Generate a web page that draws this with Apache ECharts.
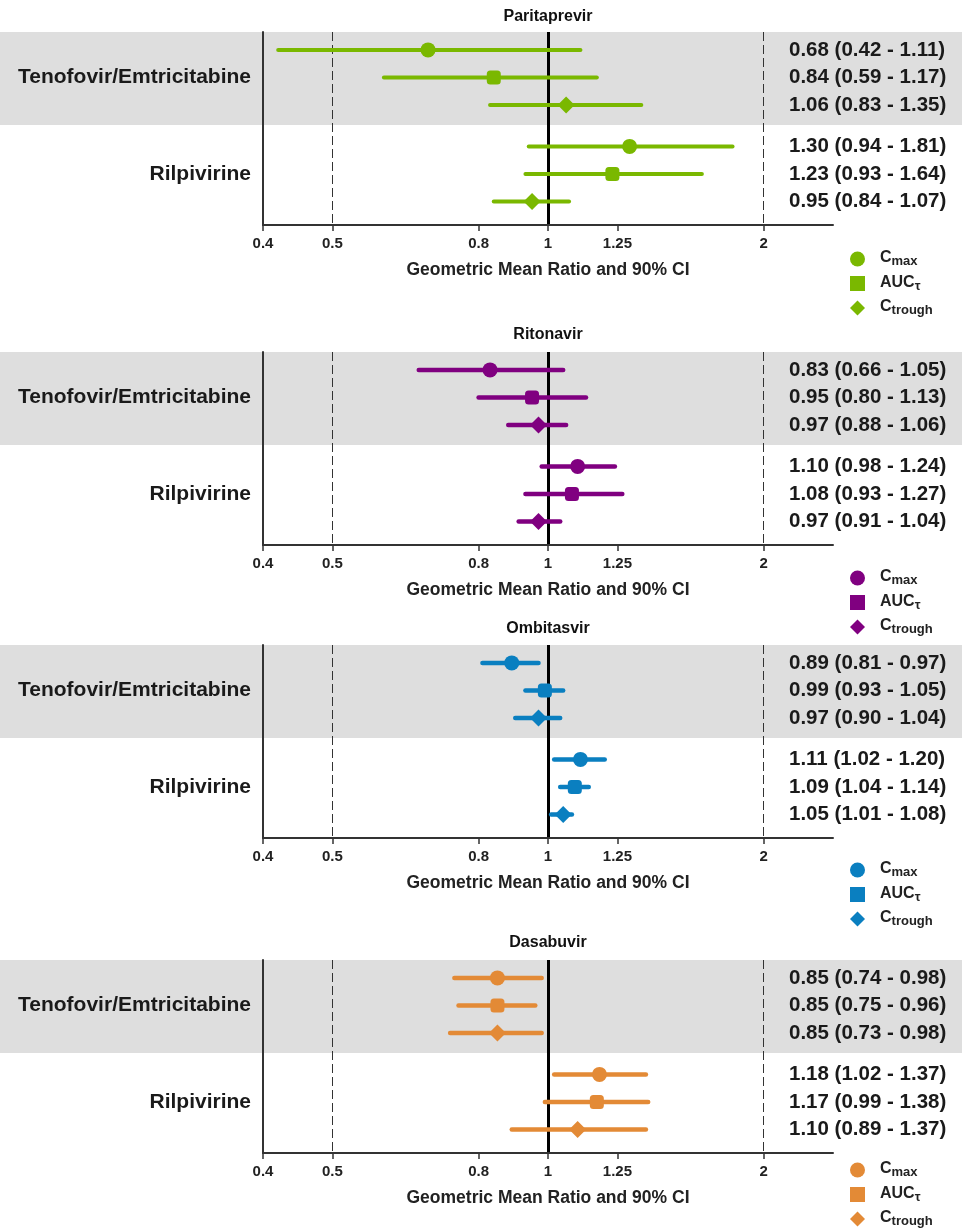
<!DOCTYPE html>
<html><head><meta charset="utf-8">
<script src="https://cdn.jsdelivr.net/npm/echarts@6/dist/echarts.min.js"></script>
<style>html,body{margin:0;padding:0;background:#fff}#c{width:962px;height:1232px}</style>
</head><body><div id="c"></div>
<script>
// ---------------- data ----------------
const drugs = ['Paritaprevir', 'Ritonavir', 'Ombitasvir', 'Dasabuvir'];
const groups = ['Tenofovir/Emtricitabine', 'Rilpivirine'];
const metrics = ['Cmax', 'AUCτ', 'Ctrough'];
// row order: Ten Cmax, Ten AUC, Ten Ctrough, Ril Cmax, Ril AUC, Ril Ctrough
const gmrParitaprevir = [0.68, 0.84, 1.06, 1.30, 1.23, 0.95];
const loParitaprevir  = [0.42, 0.59, 0.83, 0.94, 0.93, 0.84];
const hiParitaprevir  = [1.11, 1.17, 1.35, 1.81, 1.64, 1.07];
const gmrRitonavir = [0.83, 0.95, 0.97, 1.10, 1.08, 0.97];
const loRitonavir  = [0.66, 0.80, 0.88, 0.98, 0.93, 0.91];
const hiRitonavir  = [1.05, 1.13, 1.06, 1.24, 1.27, 1.04];
const gmrOmbitasvir = [0.89, 0.99, 0.97, 1.11, 1.09, 1.05];
const loOmbitasvir  = [0.81, 0.93, 0.90, 1.02, 1.04, 1.01];
const hiOmbitasvir  = [0.97, 1.05, 1.04, 1.20, 1.14, 1.08];
const gmrDasabuvir = [0.85, 0.85, 0.85, 1.18, 1.17, 1.10];
const loDasabuvir  = [0.74, 0.75, 0.73, 1.02, 0.99, 0.89];
const hiDasabuvir  = [0.98, 0.96, 0.98, 1.37, 1.38, 1.37];
const xTicks = [0.4, 0.5, 0.8, 1, 1.25, 2];
const xTickLabels = ['0.4', '0.5', '0.8', '1', '1.25', '2'];
const refDashed = [0.5, 2];
const refSolid = 1;
const axisTitle = 'Geometric Mean Ratio and 90% CI';

const gmr = [gmrParitaprevir, gmrRitonavir, gmrOmbitasvir, gmrDasabuvir];
const lo = [loParitaprevir, loRitonavir, loOmbitasvir, loDasabuvir];
const hi = [hiParitaprevir, hiRitonavir, hiOmbitasvir, hiDasabuvir];

// ---------------- layout / style ----------------
const colors = ['#7ab800', '#800080', '#0a7fc0', '#e38a36'];
const symbols = ['circle', 'roundRect', 'diamond'];
const legendIcons = ['circle', 'rect', 'diamond'];
const symbolSizes = [15, 14, 17];
const FONT = '"Liberation Sans", Arial, sans-serif';
const bandTops = [32, 352, 645, 960];
const legendTops = [246, 565, 857, 1157];
const titleTops = [9, 327, 621, 935];
const GH = 193;
const rowPos = [0, 1, 2, 3.5, 4.5, 5.5];
const groupPos = [1, 4.5];
const Y_MIN = -0.65, Y_MAX = 6.35, BAND_END = 2.72;
const GL = 263, GR = 962 - 833;

const fmtNum = v => v.toFixed(2);
function rowText(d, r) {
  return fmtNum(gmr[d][r]) + ' (' + fmtNum(lo[d][r]) + ' - ' + fmtNum(hi[d][r]) + ')';
}
function nearestIdx(arr, v) {
  let best = 0;
  arr.forEach((a, i) => { if (Math.abs(a - v) < Math.abs(arr[best] - v)) best = i; });
  return best;
}

const grid = [], xAxis = [], yAxis = [], series = [], legend = [], title = [];

drugs.forEach((drug, d) => {
  const top = bandTops[d];
  // background band grid (full width)
  const gBand = grid.length;
  grid.push({ left: 0, right: 0, top: top, height: GH });
  const xb = xAxis.length;
  xAxis.push({ gridIndex: gBand, type: 'value', min: 0, max: 1, show: false });
  const yb = yAxis.length;
  yAxis.push({ gridIndex: gBand, type: 'value', min: Y_MIN, max: Y_MAX, inverse: true, show: false });
  series.push({
    type: 'scatter', xAxisIndex: xb, yAxisIndex: yb, data: [], silent: true, z: -1,
    markArea: {
      silent: true, z: -1, itemStyle: { color: '#dedede' },
      data: [[{ xAxis: 0, yAxis: Y_MIN }, { xAxis: 1, yAxis: BAND_END }]]
    }
  });

  // plot grid
  const gP = grid.length;
  grid.push({ left: GL, right: GR, top: top, height: GH });
  const xp = xAxis.length;
  xAxis.push({
    gridIndex: gP, type: 'log', logBase: 2, min: 0.4, max: 2.5, z: 10,
    axisLine: { show: true, onZero: false, lineStyle: { color: '#333', width: 2 } },
    axisTick: { show: true, customValues: xTicks, length: 6, lineStyle: { color: '#333', width: 1.5 } },
    axisLabel: {
      customValues: xTicks, margin: 11,
      formatter: v => xTickLabels[nearestIdx(xTicks, v)],
      fontFamily: FONT, fontWeight: 'bold', fontSize: 15, color: '#222'
    },
    splitLine: { show: false },
    name: axisTitle, nameLocation: 'middle', nameGap: 36,
    nameTextStyle: { fontFamily: FONT, fontWeight: 'bold', fontSize: 17.5, color: '#222' }
  });
  const yl = yAxis.length;
  yAxis.push({
    gridIndex: gP, type: 'value', min: Y_MIN, max: Y_MAX, inverse: true, position: 'left', z: 10,
    axisLine: { show: true, onZero: false, lineStyle: { color: '#333', width: 2 } },
    axisTick: { show: false }, splitLine: { show: false },
    axisLabel: {
      customValues: groupPos, margin: 12,
      formatter: v => groups[nearestIdx(groupPos, v)],
      fontFamily: FONT, fontWeight: 'bold', fontSize: 21, color: '#1a1a1a'
    }
  });
  yAxis.push({
    gridIndex: gP, type: 'value', min: Y_MIN, max: Y_MAX, inverse: true, position: 'right', z: 10,
    axisLine: { show: false, onZero: false }, axisTick: { show: false }, splitLine: { show: false },
    axisLabel: {
      customValues: rowPos, margin: -44, align: 'left',
      formatter: v => rowText(d, nearestIdx(rowPos, v)),
      fontFamily: FONT, fontWeight: 'bold', fontSize: 20.5, color: '#1a1a1a'
    }
  });

  // reference lines + CI bars
  series.push({
    type: 'custom', xAxisIndex: xp, yAxisIndex: yl, z: 3, silent: true,
    data: rowPos.map((y, r) => [lo[d][r], hi[d][r], y]),
    encode: { x: [0, 1], y: 2 },
    renderItem: (params, api) => {
      const y = api.value(2);
      const p1 = api.coord([api.value(0), y]);
      const p2 = api.coord([api.value(1), y]);
      return {
        type: 'line',
        shape: { x1: p1[0], y1: p1[1], x2: p2[0], y2: p2[1] },
        style: { stroke: colors[d], lineWidth: d === 0 ? 4 : 4.5, lineCap: 'round' }
      };
    },
    markLine: {
      silent: true, symbol: 'none', label: { show: false }, z: 2,
      data: [
        ...refDashed.map(v => ({ xAxis: v, lineStyle: { type: [9, 4], width: 1, color: '#333' } })),
        { xAxis: refSolid, lineStyle: { type: 'solid', width: 3, color: '#000' } }
      ]
    }
  });

  // points
  metrics.forEach((m, k) => {
    series.push({
      name: drug + '|' + m,
      type: 'scatter', xAxisIndex: xp, yAxisIndex: yl, z: 5, silent: true,
      symbol: symbols[k], symbolSize: symbolSizes[k],
      itemStyle: { color: colors[d], opacity: 1 },
      data: [k, k + 3].map(r => [gmr[d][r], rowPos[r]])
    });
  });

  legend.push({
    orient: 'vertical', left: 850, top: legendTops[d], padding: 0,
    itemWidth: 15, itemHeight: 15, itemGap: 2.5,
    selectedMode: false,
    data: metrics.map((m, k) => ({ name: drug + '|' + m, icon: legendIcons[k] })),
    formatter: name => {
      const m = name.split('|')[1];
      const base = m.startsWith('AUC') ? 'AUC' : 'C';
      const sub = m.slice(base.length);
      return '{c|' + base + '}{s|' + sub + '}';
    },
    textStyle: {
      rich: {
        c: { fontFamily: FONT, fontWeight: 'bold', fontSize: 16, color: '#222', lineHeight: 18, verticalAlign: 'top', padding: [0, 0, 0, 10] },
        s: { fontFamily: FONT, fontWeight: 'bold', fontSize: 13, color: '#222', lineHeight: 13, verticalAlign: 'bottom', padding: [9, 0, 0, 0] }
      }
    }
  });

  title.push({
    text: drug, left: 548, textAlign: 'center', top: titleTops[d], padding: 0,
    textStyle: { fontFamily: FONT, fontWeight: 'bold', fontSize: 16, color: '#111' }
  });
});

const chart = echarts.init(document.getElementById('c'), null, { renderer: 'canvas' });
chart.setOption({
  animation: false,
  backgroundColor: '#fff',
  title, legend, grid, xAxis, yAxis, series
});
</script>
</body></html>
